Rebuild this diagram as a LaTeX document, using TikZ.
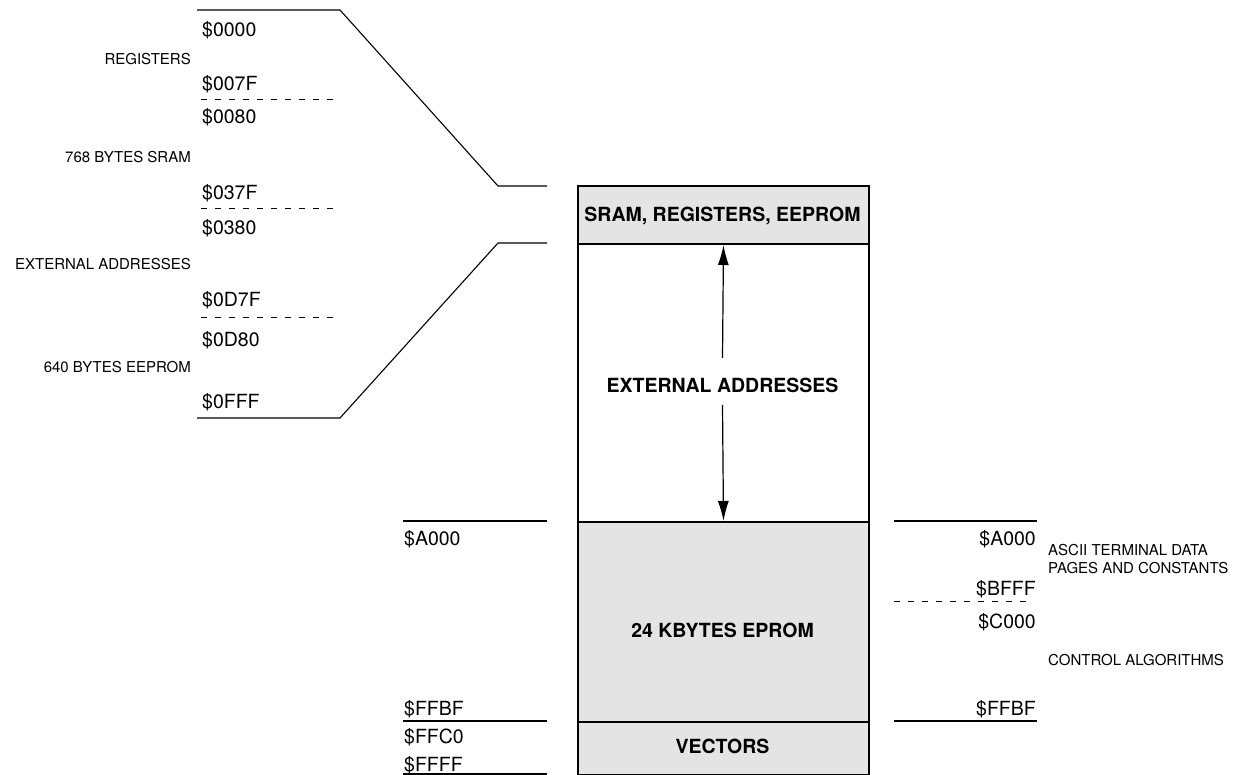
\documentclass[tikz,border=0pt]{standalone}
\usepackage{fontspec}
\setmainfont{TeX Gyre Heros}
\usetikzlibrary{arrows.meta}
\definecolor{bandgray}{HTML}{E4E4E4}
\begin{document}
\begin{tikzpicture}[x=1pt,y=-1pt,
  thinline/.style={line width=1.1pt},
  dashline/.style={line width=1pt, dash pattern=on 6pt off 8pt},
  addr/.style={font=\fontsize{19.5}{22}\selectfont, inner sep=0pt},
  lbl/.style={font=\fontsize{15}{18}\selectfont, inner sep=0pt},
  boldlbl/.style={font=\fontsize{19.5}{22}\selectfont\bfseries, inner sep=0pt, anchor=base},
  band/.style={draw, line width=2pt, minimum width=291pt, inner sep=0pt, anchor=north west},
  dblarrow/.style={line width=1.2pt, -{Latex[length=20pt,width=11pt]}}]
\useasboundingbox (0,0) rectangle (1245,775);

% main memory box
\node[band, fill=bandgray, minimum height=58pt] (sram) at (577,185) {};
\node[band, fill=white, minimum height=278pt] (ext) at (577,243) {};
\node[band, fill=bandgray, minimum height=200pt] (eprom) at (577,521) {};
\node[band, fill=bandgray, minimum height=53pt] (vec) at (577,721) {};

\node[boldlbl] (sramt) at (722.5,222) {SRAM, REGISTERS, EEPROM};
\node[boldlbl] (extt) at (722.5,392) {EXTERNAL ADDRESSES};
\node[boldlbl] (epromt) at (722.5,637) {24 KBYTES EPROM};
\node[boldlbl] (vect) at (722.5,753) {VECTORS};

\coordinate (gt) at (722.5,358);
\coordinate (gb) at (722.5,405);
\draw[dblarrow] (gt) -- (sram.south);
\draw[dblarrow] (gb) -- (eprom.north);

% top-left expansion lines
\coordinate (t1) at (197,10);
\coordinate (t2) at (340,10);
\coordinate (t3) at (498,186);
\coordinate (t4) at (547,186);
\draw[thinline] (t1) -- (t2) -- (t3) -- (t4);
\coordinate (b1) at (197,418);
\coordinate (b2) at (340,418);
\coordinate (b3) at (498,243);
\coordinate (b4) at (547,243);
\draw[thinline] (b1) -- (b2) -- (b3) -- (b4);

\coordinate (d1a) at (201,100); \coordinate (d1b) at (333,100);
\coordinate (d2a) at (201,209); \coordinate (d2b) at (333,209);
\coordinate (d3a) at (201,318); \coordinate (d3b) at (333,318);
\draw[dashline] (d1a) -- (d1b);
\draw[dashline] (d2a) -- (d2b);
\draw[dashline] (d3a) -- (d3b);

\node[addr, anchor=base west] (a0000) at (202,37) {\$0000};
\node[addr, anchor=base west] (a007F) at (202,90.5) {\$007F};
\node[addr, anchor=base west] (a0080) at (202,124) {\$0080};
\node[addr, anchor=base west] (a037F) at (202,200) {\$037F};
\node[addr, anchor=base west] (a0380) at (202,235) {\$0380};
\node[addr, anchor=base west] (a0D7F) at (202,307) {\$0D7F};
\node[addr, anchor=base west] (a0D80) at (202,347) {\$0D80};
\node[addr, anchor=base west] (a0FFF) at (202,409) {\$0FFF};

\node[lbl, anchor=base east] (lreg) at (191,65) {REGISTERS};
\node[lbl, anchor=base east] (lsram) at (191,163) {768 BYTES SRAM};
\node[lbl, anchor=base east] (lext) at (191,270) {EXTERNAL ADDRESSES};
\node[lbl, anchor=base east] (leep) at (191,373) {640 BYTES EEPROM};

% bottom-left lines
\coordinate (l1a) at (403,521); \coordinate (l1b) at (547,521);
\coordinate (l2a) at (403,721); \coordinate (l2b) at (547,721);
\coordinate (l3a) at (403,774); \coordinate (l3b) at (547,774);
\draw[thinline] (l1a) -- (l1b);
\draw[thinline] (l2a) -- (l2b);
\draw[thinline] (l3a) -- (l3b);
\node[addr, anchor=base west] (bA000) at (404,545) {\$A000};
\node[addr, anchor=base west] (bFFBF) at (404,715) {\$FFBF};
\node[addr, anchor=base west] (bFFC0) at (404,743) {\$FFC0};
\node[addr, anchor=base west] (bFFFF) at (404,771) {\$FFFF};

% right lines
\coordinate (r1a) at (894,521); \coordinate (r1b) at (1037,521);
\coordinate (r2a) at (894,721); \coordinate (r2b) at (1037,721);
\coordinate (rda) at (894,601); \coordinate (rdb) at (1028,601);
\draw[thinline] (r1a) -- (r1b);
\draw[thinline] (r2a) -- (r2b);
\draw[dashline] (rda) -- (rdb);
\node[addr, anchor=base east] (rA000) at (1036,545) {\$A000};
\node[addr, anchor=base east] (rBFFF) at (1036,595) {\$BFFF};
\node[addr, anchor=base east] (rC000) at (1036,628) {\$C000};
\node[addr, anchor=base east] (rFFBF) at (1036,715) {\$FFBF};

\node[lbl, anchor=base west] (rascii) at (1048,555) {ASCII TERMINAL DATA};
\node[lbl, anchor=base west] (rpages) at (1048,573) {PAGES AND CONSTANTS};
\node[lbl, anchor=base west] (rctrl) at (1048,665) {CONTROL ALGORITHMS};
\end{tikzpicture}
\end{document}
